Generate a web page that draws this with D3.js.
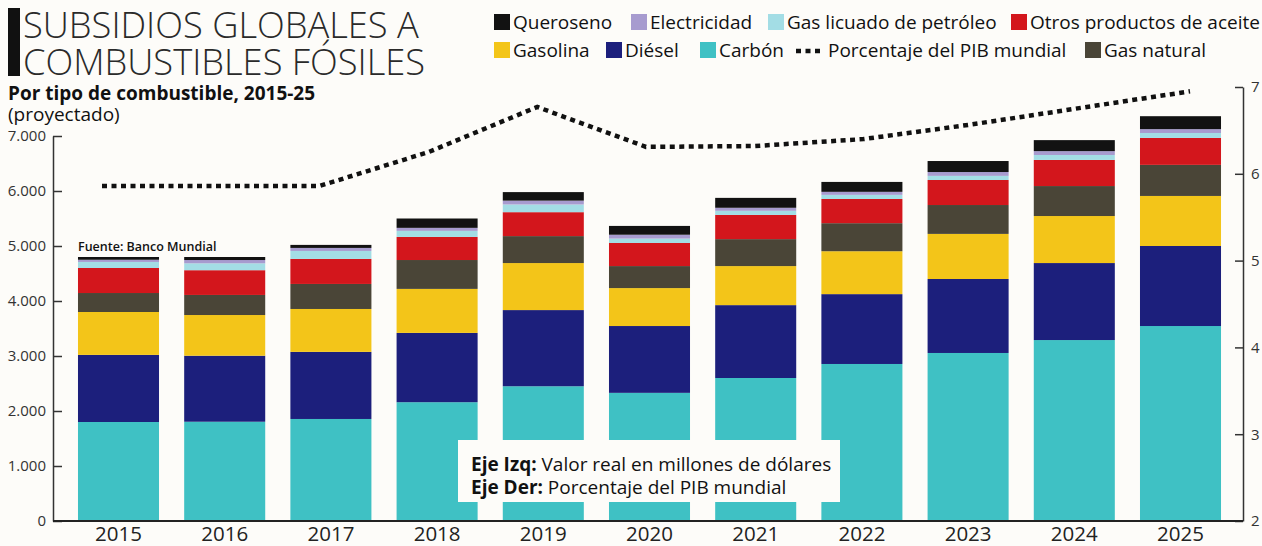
<!DOCTYPE html>
<html><head><meta charset="utf-8">
<script src="https://cdn.jsdelivr.net/npm/d3@7"></script>
<style>
body{margin:0;background:#fdfcf9;}
svg{display:block;font-family:"Open Sans","Lato",sans-serif;}
</style>
</head><body>
<svg id="c" width="1262" height="546"></svg>
<script>
// ---- data ----
const years = ["2015","2016","2017","2018","2019","2020","2021","2022","2023","2024","2025"];
const carbon       = [1800,1805,1855,2160,2450,2330,2600,2855,3055,3290,3545];
const diesel       = [1220,1200,1220,1260,1385,1215,1325,1270,1345,1400,1455];
const gasolina     = [ 780, 740, 780, 800, 855, 690, 710, 780, 820, 855, 910];
const gasNatural   = [ 345, 365, 455, 525, 490, 400, 490, 510, 525, 545, 565];
const otros        = [ 455, 450, 455, 420, 435, 420, 440, 440, 455, 475, 490];
const glp          = [ 110, 125, 145, 110, 140,  80,  75,  75,  75,  90,  90];
const electricidad = [  40,  60,  55,  55,  70,  70,  55,  55,  70,  70,  70];
const queroseno    = [  50,  55,  55, 170, 155, 160, 180, 180, 200, 200, 235];
const pibPct       = [5.86,5.86,5.86,6.25,6.77,6.31,6.32,6.40,6.57,6.76,6.95];
const leftTicks  = [0,1000,2000,3000,4000,5000,6000,7000];
const rightTicks = [2,3,4,5,6,7];

const seriesNames = ["Carbón","Diésel","Gasolina","Gas natural","Otros productos de aceite","Gas licuado de petróleo","Electricidad","Queroseno"];
const seriesVals  = [carbon,diesel,gasolina,gasNatural,otros,glp,electricidad,queroseno];
const colors = {
  "Carbón":"#3fc1c4","Diésel":"#1c1f7c","Gasolina":"#f3c519","Gas natural":"#4a4537",
  "Otros productos de aceite":"#d3161c","Gas licuado de petróleo":"#a3dde5",
  "Electricidad":"#a79bcf","Queroseno":"#121212"
};

// ---- build ----
const svg = d3.select("#c");
const table = years.map((y,i)=>{const o={year:y}; seriesNames.forEach((n,k)=>o[n]=seriesVals[k][i]); return o;});
const stack = d3.stack().keys(seriesNames)(table);

const x = d3.scaleBand().domain(years).range([65.4,1233.6]).paddingInner(0.237).paddingOuter(0.1185);
const y = d3.scaleLinear().domain([0,7000]).range([521,136]);
const yR = d3.scaleLinear().domain([2,7]).range([521,87]);
const xLine = d3.scalePoint().domain(years).range([102,1190]);

// title
svg.append("rect").attr("x",8).attr("y",8).attr("width",12).attr("height",68).attr("fill","#111");
const title = svg.append("text").attr("fill","#2a2a2a").style("font-family","'Open Sans', Lato, sans-serif")
  .style("font-weight",300).style("font-size","38px");
const t1 = title.append("tspan").attr("x",23).attr("y",38).text("SUBSIDIOS GLOBALES A");
title.append("tspan").attr("x",23).attr("y",75).text("COMBUSTIBLES FÓSILES");
// fit title width to the reference line length
const w1 = t1.node().getComputedTextLength();
const fs = 38 * 396 / w1;
title.style("font-size", Math.min(40, fs) + "px");

svg.append("text").attr("x",8).attr("y",100).attr("fill","#111").style("font-size","19px").style("font-weight",700)
  .text("Por tipo de combustible, 2015-25");
svg.append("text").attr("x",8).attr("y",121).attr("fill","#111").style("font-size","19px")
  .text("(proyectado)");

// bars
svg.append("g").selectAll("g").data(stack).join("g").attr("fill",d=>colors[d.key])
  .selectAll("rect").data(d=>d).join("rect")
  .attr("x",d=>x(d.data.year)).attr("width",x.bandwidth())
  .attr("y",d=>y(d[1])).attr("height",d=>y(d[0])-y(d[1]));

// source
svg.append("text").attr("x",78).attr("y",251).attr("fill","#111").style("font-size","12.5px").style("font-weight",600)
  .text("Fuente: Banco Mundial");

// left axis
const fmt = d3.formatLocale({decimal:",",thousands:".",grouping:[3],currency:["$",""]}).format(",");
const gL = svg.append("g").attr("transform","translate(53,0)")
  .call(d3.axisLeft(y).tickValues(leftTicks).tickFormat(fmt).tickSizeInner(-9).tickSizeOuter(0).tickPadding(7));
gL.select(".domain").attr("stroke","#333").attr("stroke-width",1.5);
gL.selectAll(".tick line").attr("stroke","#333").attr("stroke-width",1.5);
gL.selectAll(".tick text").attr("fill","#333").style("font-size","15px").style("font-family","'Open Sans',sans-serif");

// right axis
const gR = svg.append("g").attr("transform","translate(1243,0)")
  .call(d3.axisRight(yR).tickValues(rightTicks).tickFormat(d3.format("d")).tickSizeInner(-8).tickSizeOuter(0).tickPadding(8));
gR.select(".domain").attr("stroke","#333").attr("stroke-width",1.5);
gR.selectAll(".tick line").attr("stroke","#333").attr("stroke-width",1.5);
gR.selectAll(".tick text").attr("fill","#333").style("font-size","15px").style("font-family","'Open Sans',sans-serif");

// bottom axis
const gB = svg.append("g").attr("transform","translate(0,521)")
  .call(d3.axisBottom(x).tickSize(0).tickPadding(5));
gB.select(".domain").attr("d","M53,0H1243").attr("stroke","#222").attr("stroke-width",1.8);
gB.selectAll(".tick text").attr("fill","#222").style("font-size","20.5px").style("font-family","'Open Sans',sans-serif");

// dotted line
svg.append("path").datum(pibPct)
  .attr("d",d3.line().x((d,i)=>xLine(years[i])).y(d=>yR(d)))
  .attr("fill","none").attr("stroke","#111").attr("stroke-width",4.5).attr("stroke-dasharray","5,4.5");

// annotation
svg.append("rect").attr("x",458).attr("y",440).attr("width",382).attr("height",62).attr("fill","#fdfcf9");
const a1 = svg.append("text").attr("x",471).attr("y",471).attr("fill","#111").style("font-size","19px");
a1.append("tspan").style("font-weight",700).text("Eje Izq:");
a1.append("tspan").text(" Valor real en millones de dólares");
const a2 = svg.append("text").attr("x",471).attr("y",494).attr("fill","#111").style("font-size","19px");
a2.append("tspan").style("font-weight",700).text("Eje Der:");
a2.append("tspan").text(" Porcentaje del PIB mundial");

// legend
const legendItems = [
  {name:"Queroseno", row:0, x:494},
  {name:"Electricidad", row:0, x:631},
  {name:"Gas licuado de petróleo", row:0, x:768},
  {name:"Otros productos de aceite", row:0, x:1011},
  {name:"Gasolina", row:1, x:494},
  {name:"Diésel", row:1, x:606},
  {name:"Carbón", row:1, x:700},
  {name:"Porcentaje del PIB mundial", row:1, x:796, line:true},
  {name:"Gas natural", row:1, x:1085}
];
const rowY = [22,50];
const lg = svg.append("g").selectAll("g").data(legendItems).join("g")
  .attr("transform",d=>`translate(${d.x},${rowY[d.row]})`);
lg.filter(d=>!d.line).append("rect").attr("x",0).attr("y",-8).attr("width",16).attr("height",16)
  .attr("fill",d=>colors[d.name]);
lg.filter(d=>d.line).append("line").attr("x1",0).attr("x2",26).attr("y1",1).attr("y2",1)
  .attr("stroke","#111").attr("stroke-width",4.5).attr("stroke-dasharray","5,4.5");
lg.append("text").attr("x",d=>d.line?32:19).attr("y",7).attr("fill","#111").style("font-size","19px")
  .text(d=>d.name);
</script>
</body></html>
